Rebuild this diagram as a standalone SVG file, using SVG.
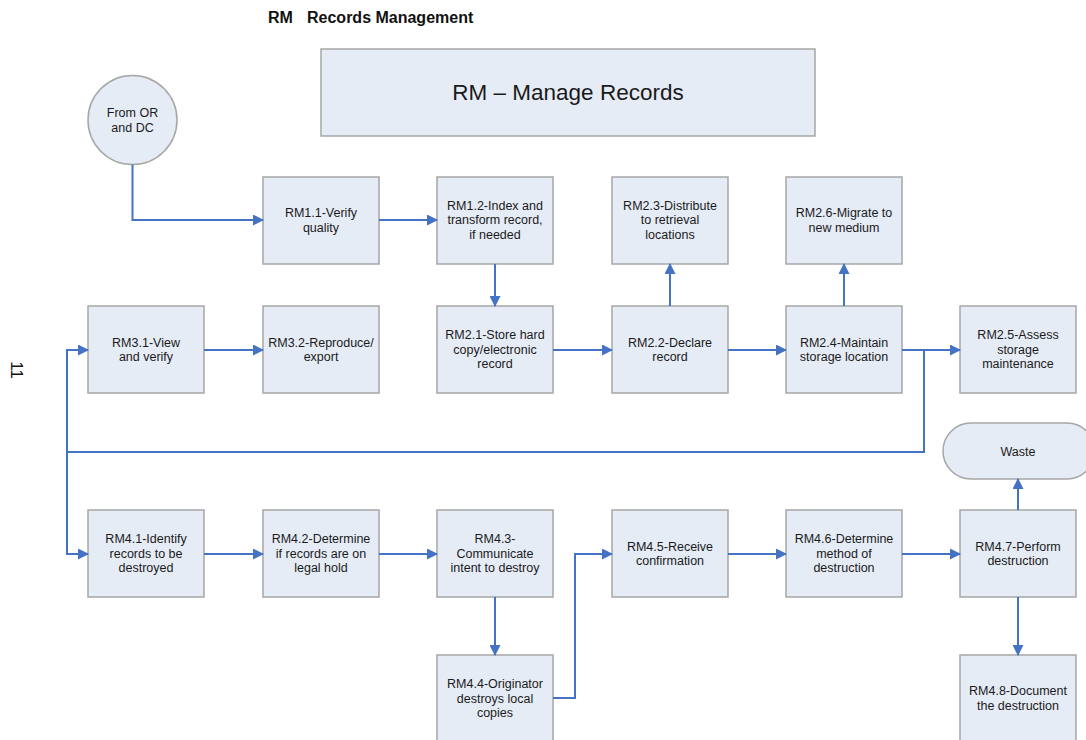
<svg xmlns="http://www.w3.org/2000/svg" width="1086" height="740" viewBox="0 0 1086 740">
<defs>
<marker id="ah" markerWidth="11" markerHeight="11" refX="10" refY="5.5" orient="auto" markerUnits="userSpaceOnUse">
<path d="M0,0 L11,5.5 L0,11 Z" fill="#4472C4"/>
</marker>
<style>
.box{fill:#E6ECF6;stroke:#A6A6A6;stroke-width:1.5}
.t{font-family:"Liberation Sans",Arial,sans-serif;font-size:12.5px;fill:#1a1a1a;text-anchor:middle}
.c{fill:none;stroke:#4472C4;stroke-width:2}
.a{marker-end:url(#ah)}
</style>
</defs>
<rect width="1086" height="740" fill="#ffffff"/>
<text x="268" y="23" font-family="Liberation Sans,Arial,sans-serif" font-size="16" font-weight="bold" fill="#111">RM<tspan x="307">Records Management</tspan></text>
<text transform="translate(11,370) rotate(90)" font-family="Liberation Sans,Arial,sans-serif" font-size="17" fill="#111" text-anchor="middle">11</text>

<g id="header"><rect class="box" x="321" y="49" width="494" height="87"/><text class="t" x="568" y="100" style="font-size:22.5px">RM – Manage Records</text></g>

<g id="start"><circle class="box" cx="132.5" cy="120" r="44.5"/><text class="t" x="132.5" y="117">From OR</text><text class="t" x="132.5" y="132">and DC</text></g>

<g id="rm11"><rect class="box" x="263" y="177" width="116" height="87"/><text class="t" x="321" y="217">RM1.1-Verify</text><text class="t" x="321" y="231.5">quality</text></g>
<g id="rm12"><rect class="box" x="437" y="177" width="116" height="87"/><text class="t" x="495" y="209.5">RM1.2-Index and</text><text class="t" x="495" y="224">transform record,</text><text class="t" x="495" y="238.5">if needed</text></g>
<g id="rm23"><rect class="box" x="612" y="177" width="116" height="87"/><text class="t" x="670" y="209.5">RM2.3-Distribute</text><text class="t" x="670" y="224">to retrieval</text><text class="t" x="670" y="238.5">locations</text></g>
<g id="rm26"><rect class="box" x="786" y="177" width="116" height="87"/><text class="t" x="844" y="217">RM2.6-Migrate to</text><text class="t" x="844" y="231.5">new medium</text></g>

<g id="rm31"><rect class="box" x="88" y="306" width="116" height="87"/><text class="t" x="146" y="346.5">RM3.1-View</text><text class="t" x="146" y="361">and verify</text></g>
<g id="rm32"><rect class="box" x="263" y="306" width="116" height="87"/><text class="t" x="321" y="346.5">RM3.2-Reproduce/</text><text class="t" x="321" y="361">export</text></g>
<g id="rm21"><rect class="box" x="437" y="306" width="116" height="87"/><text class="t" x="495" y="339">RM2.1-Store hard</text><text class="t" x="495" y="353.5">copy/electronic</text><text class="t" x="495" y="368">record</text></g>
<g id="rm22"><rect class="box" x="612" y="306" width="116" height="87"/><text class="t" x="670" y="346.5">RM2.2-Declare</text><text class="t" x="670" y="361">record</text></g>
<g id="rm24"><rect class="box" x="786" y="306" width="116" height="87"/><text class="t" x="844" y="346.5">RM2.4-Maintain</text><text class="t" x="844" y="361">storage location</text></g>
<g id="rm25"><rect class="box" x="960" y="306" width="116" height="87"/><text class="t" x="1018" y="339">RM2.5-Assess</text><text class="t" x="1018" y="353.5">storage</text><text class="t" x="1018" y="368">maintenance</text></g>

<g id="waste"><rect class="box" x="943" y="423" width="152" height="56" rx="28" ry="28"/><text class="t" x="1018" y="455.5">Waste</text></g>

<g id="rm41"><rect class="box" x="88" y="510" width="116" height="87"/><text class="t" x="146" y="543">RM4.1-Identify</text><text class="t" x="146" y="557.5">records to be</text><text class="t" x="146" y="572">destroyed</text></g>
<g id="rm42"><rect class="box" x="263" y="510" width="116" height="87"/><text class="t" x="321" y="543">RM4.2-Determine</text><text class="t" x="321" y="557.5">if records are on</text><text class="t" x="321" y="572">legal hold</text></g>
<g id="rm43"><rect class="box" x="437" y="510" width="116" height="87"/><text class="t" x="495" y="543">RM4.3-</text><text class="t" x="495" y="557.5">Communicate</text><text class="t" x="495" y="572">intent to destroy</text></g>
<g id="rm45"><rect class="box" x="612" y="510" width="116" height="87"/><text class="t" x="670" y="550.5">RM4.5-Receive</text><text class="t" x="670" y="565">confirmation</text></g>
<g id="rm46"><rect class="box" x="786" y="510" width="116" height="87"/><text class="t" x="844" y="543">RM4.6-Determine</text><text class="t" x="844" y="557.5">method of</text><text class="t" x="844" y="572">destruction</text></g>
<g id="rm47"><rect class="box" x="960" y="510" width="116" height="87"/><text class="t" x="1018" y="550.5">RM4.7-Perform</text><text class="t" x="1018" y="565">destruction</text></g>

<g id="rm44"><rect class="box" x="437" y="655" width="116" height="87"/><text class="t" x="495" y="688">RM4.4-Originator</text><text class="t" x="495" y="702.5">destroys local</text><text class="t" x="495" y="717">copies</text></g>
<g id="rm48"><rect class="box" x="960" y="655" width="116" height="87"/><text class="t" x="1018" y="695">RM4.8-Document</text><text class="t" x="1018" y="709.5">the destruction</text></g>

<g id="connectors">
<path class="c a" d="M132.5,164.5 V220 H263"/>
<path class="c a" d="M379,220 H437"/>
<path class="c a" d="M495,264 V306"/>
<path class="c a" d="M553,350 H612"/>
<path class="c a" d="M670,306 V264"/>
<path class="c a" d="M728,350 H786"/>
<path class="c a" d="M844,306 V264"/>
<path class="c a" d="M902,350 H960"/>
<path class="c a" d="M924,350 V452 H67 V350 H88"/>
<path class="c a" d="M67,452 V554 H88"/>
<path class="c a" d="M204,350 H263"/>
<path class="c a" d="M204,554 H263"/>
<path class="c a" d="M379,554 H437"/>
<path class="c a" d="M495,597 V655"/>
<path class="c a" d="M553,698 H575 V554 H612"/>
<path class="c a" d="M728,554 H786"/>
<path class="c a" d="M902,554 H960"/>
<path class="c a" d="M1018,510 V479"/>
<path class="c a" d="M1018,597 V655"/>
</g>
</svg>
